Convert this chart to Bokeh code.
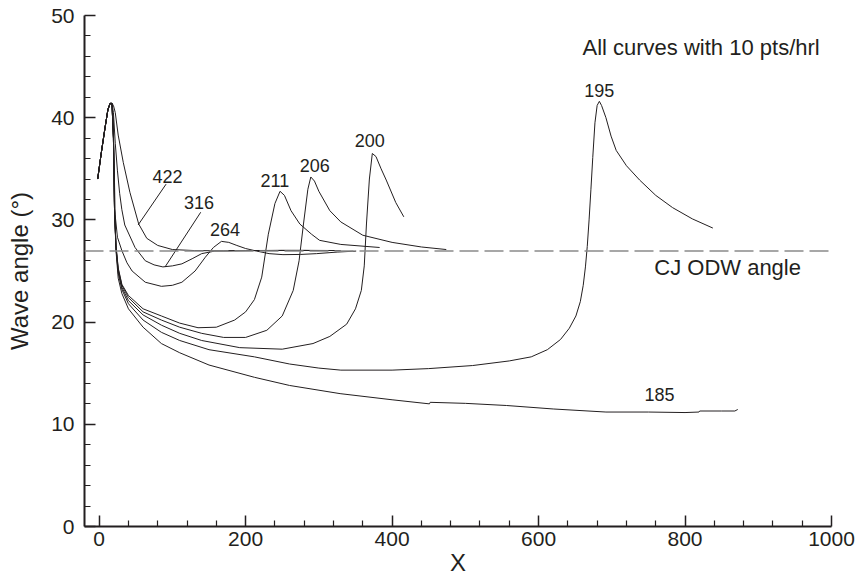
from bokeh.plotting import figure
from bokeh.models import FixedTicker, Span, Label, Range1d
from bokeh.core.properties import value
from bokeh.embed import file_html
from bokeh.resources import INLINE

# ---------------- data ----------------
ramp_x = [-2, 3, 8, 12, 15, 17.5]
ramp_y = [34.0, 36.6, 39.0, 40.8, 41.4, 41.4]

x422 = ramp_x + [19.5, 22, 26, 33, 42, 54, 65, 80, 100, 130, 170, 220, 280, 330]
y422 = ramp_y + [41.2, 40.5, 38.3, 35.6, 32.7, 29.6, 28.2, 27.5, 27.1, 27.0, 26.97, 27.0, 27.02, 27.0]

x316 = ramp_x + [19.5, 22, 25, 28, 31, 35, 49, 63, 75, 87, 100, 113, 127, 140, 158, 200, 250, 300]
y316 = ramp_y + [40.5, 37.5, 34.8, 32.6, 31.0, 29.5, 27.3, 26.0, 25.6, 25.4, 25.5, 25.7, 26.2, 26.7, 26.95, 27.0, 27.02, 27.0]

x264 = ramp_x + [19, 20.5, 21.8, 25, 31, 38, 45, 63, 85, 100, 113, 131, 145, 156, 167, 177, 188, 200, 215, 232, 251, 275, 297, 325, 351]
y264 = ramp_y + [40.0, 35.5, 30.5, 28.3, 27.0, 25.8, 25.0, 23.9, 23.5, 23.6, 23.9, 25.0, 26.35, 27.3, 27.9, 27.8, 27.5, 27.2, 26.95, 26.7, 26.6, 26.62, 26.7, 26.85, 26.95]

x211 = ramp_x + [19.5, 21, 23, 26, 31, 40, 60, 85, 110, 135, 160, 185, 200, 212, 222, 231, 240, 247, 253, 262, 274, 290, 301, 330, 383]
y211 = ramp_y + [38.0, 31.0, 27.5, 25.3, 23.7, 22.6, 21.3, 20.6, 19.9, 19.45, 19.5, 20.2, 21.0, 22.2, 24.4, 28.6, 31.6, 32.8, 32.4, 30.9, 29.6, 28.6, 28.0, 27.6, 27.3]

x206 = ramp_x + [19.5, 21, 23, 26, 31, 40, 60, 85, 110, 140, 170, 200, 229, 250, 265, 273, 279, 285, 289, 294, 300, 315, 330, 360, 400, 440, 474]
y206 = ramp_y + [38.0, 31.0, 27.4, 25.2, 23.6, 22.4, 21.0, 20.2, 19.5, 18.9, 18.5, 18.5, 19.2, 20.6, 23.1, 26.0, 29.6, 33.0, 34.2, 33.8, 32.8, 30.9, 29.8, 28.5, 27.8, 27.35, 27.1]

x200 = ramp_x + [19.5, 21, 23, 26, 31, 40, 60, 85, 110, 140, 192, 250, 292, 315, 338, 350, 358, 362, 365, 369, 373, 378, 385, 392, 405, 416]
y200 = ramp_y + [38.0, 31.0, 27.3, 25.0, 23.4, 22.1, 20.7, 19.7, 18.9, 18.2, 17.5, 17.35, 17.9, 18.6, 19.8, 21.3, 23.1, 25.5, 29.6, 34.0, 36.5, 36.2, 35.0, 33.9, 31.7, 30.3]

x195 = ramp_x + [19.5, 21, 23, 26, 31, 40, 60, 85, 110, 150, 212, 260, 300, 330, 400, 450, 510, 560, 590, 612, 630, 642, 651, 657, 661, 664, 666.5, 669, 671.5, 674, 677, 680, 683, 686, 692, 699, 706, 720, 738, 760, 783, 810, 838]
y195 = ramp_y + [38.0, 31.0, 27.2, 24.8, 23.2, 21.8, 20.2, 19.0, 18.2, 17.3, 16.6, 15.9, 15.5, 15.3, 15.3, 15.45, 15.75, 16.2, 16.6, 17.3, 18.3, 19.4, 20.6, 22.0, 23.6, 25.4, 27.4, 30.0, 33.0, 36.1, 39.5, 41.2, 41.6, 41.2, 40.0, 38.2, 36.8, 35.3, 33.9, 32.4, 31.2, 30.1, 29.2]

x185 = ramp_x + [19.5, 21, 23, 26, 31, 40, 60, 85, 110, 150, 212, 260, 329, 400, 451, 452, 500, 556, 620, 692, 750, 800, 819, 820, 850, 868, 872]
y185 = ramp_y + [38.0, 31.0, 27.0, 24.3, 22.8, 21.3, 19.5, 17.9, 17.0, 15.8, 14.6, 13.8, 13.0, 12.4, 12.0, 12.15, 12.05, 11.84, 11.5, 11.2, 11.2, 11.15, 11.2, 11.3, 11.3, 11.3, 11.45]

series_x = [x422, x316, x264, x211, x206, x200, x195, x185]
series_y = [y422, y316, y264, y211, y206, y200, y195, y185]

cj_angle = 26.95

label_text = ["195", "200", "206", "211", "264", "316", "422", "185"]
label_x = [683, 369.5, 294.5, 240, 171.8, 136.4, 93.2, 765]
label_y = [42.7, 37.8, 35.3, 33.9, 29.1, 31.7, 34.2, 12.9]

leader_x0 = [91.4, 138.7]
leader_y0 = [33.5, 30.75]
leader_x1 = [53.2, 90.0]
leader_y1 = [29.5, 25.4]

x_ticks = [0, 200, 400, 600, 800, 1000]
x_minor = [v for v in range(40, 1000, 40) if v % 200]
y_ticks = [0, 10, 20, 30, 40, 50]
y_minor = [v for v in range(2, 50, 2) if v % 10]

INK = "#231f20"
FONT = "Liberation Sans"

p = figure(width=859, height=579, output_backend="svg", toolbar_location=None,
           x_range=Range1d(-20, 1000), y_range=Range1d(0, 50),
           min_border_left=84, min_border_right=28, min_border_top=15, min_border_bottom=53)
p.grid.visible = False
p.outline_line_color = None
p.background_fill_color = "white"
p.border_fill_color = "white"

for ax, ticks, minor in ((p.xaxis[0], x_ticks, x_minor), (p.yaxis[0], y_ticks, y_minor)):
    ax.ticker = FixedTicker(ticks=ticks, minor_ticks=minor)
    ax.axis_line_color = INK
    ax.axis_line_width = 2
    ax.major_tick_line_color = INK
    ax.major_tick_line_width = 1.5
    ax.minor_tick_line_color = INK
    ax.minor_tick_line_width = 1.2
    ax.major_tick_in = 11
    ax.major_tick_out = 0
    ax.minor_tick_in = 6
    ax.minor_tick_out = 0
    ax.major_label_text_font = FONT
    ax.major_label_text_font_size = "21px"
    ax.major_label_text_color = INK
    ax.axis_label_text_font = FONT
    ax.axis_label_text_font_size = "24px"
    ax.axis_label_text_font_style = "normal"
    ax.axis_label_text_color = INK

p.xaxis.axis_label = "X"
p.xaxis.major_label_standoff = 5
p.xaxis.axis_label_standoff = 0
p.yaxis.axis_label = "Wave angle (°)"
p.yaxis.major_label_standoff = 10
p.yaxis.axis_label_standoff = 15

p.add_layout(Span(location=cj_angle, dimension="width", line_color="#8a8a8a",
                  line_width=1.6, line_dash="19 6"))

for xs, ys in zip(series_x, series_y):
    p.line(xs, ys, line_color=INK, line_width=1.0)

p.segment(x0=leader_x0, y0=leader_y0, x1=leader_x1, y1=leader_y1, line_color=INK, line_width=1.0)

p.text(x=label_x, y=label_y, text=label_text, text_font=value(FONT),
       text_font_size=value("18px"), text_color=INK,
       text_align="center", text_baseline="middle")

p.add_layout(Label(x=660, y=46.9, text="All curves with 10 pts/hrl", text_font=FONT,
                   text_font_size="22px", text_color=INK, text_baseline="middle"))
p.add_layout(Label(x=758, y=25.3, text="CJ ODW angle", text_font=FONT,
                   text_font_size="22px", text_color=INK, text_baseline="middle"))

open("out.html", "w").write(file_html(p, INLINE))
